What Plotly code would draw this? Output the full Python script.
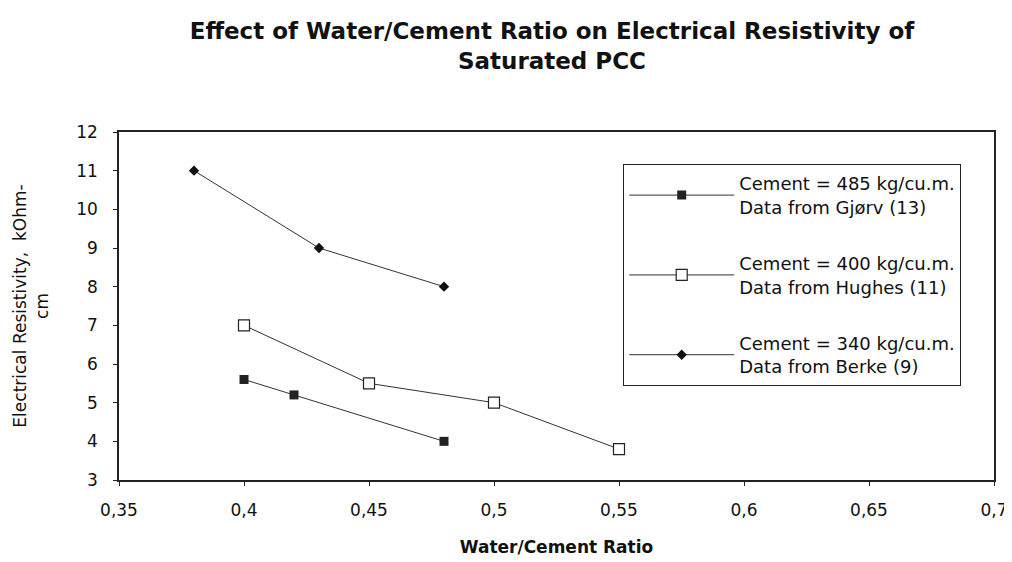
import plotly.graph_objects as go

# Water/cement ratio vs resistivity (kOhm-cm)
wc_gjorv = [0.40, 0.42, 0.48]
res_gjorv = [5.6, 5.2, 4.0]

wc_hughes = [0.40, 0.45, 0.50, 0.55]
res_hughes = [7.0, 5.5, 5.0, 3.8]

wc_berke = [0.38, 0.43, 0.48]
res_berke = [11.0, 9.0, 8.0]

x_ticks = [0.35, 0.4, 0.45, 0.5, 0.55, 0.6, 0.65, 0.7]
y_ticks = list(range(3, 13))

font = "DejaVu Sans, sans-serif"

fig = go.Figure()
fig.add_trace(go.Scatter(x=wc_gjorv, y=res_gjorv, mode="lines+markers", legendgroup="a",
                         name="Cement = 485 kg/cu.m.<br>Data from Gjørv (13)",
                         line=dict(color="#333", width=1),
                         marker=dict(symbol="square", size=9, color="#222")))
fig.add_trace(go.Scatter(x=wc_hughes, y=res_hughes, mode="lines+markers", legendgroup="b",
                         name="Cement = 400 kg/cu.m.<br>Data from Hughes (11)",
                         line=dict(color="#333", width=1),
                         marker=dict(symbol="square", size=11, color="white",
                                     line=dict(color="#222", width=1.2))))
fig.add_trace(go.Scatter(x=wc_berke, y=res_berke, mode="lines+markers", legendgroup="c",
                         name="Cement = 340 kg/cu.m.<br>Data from Berke (9)",
                         line=dict(color="#333", width=1),
                         marker=dict(symbol="diamond", size=8, color="#111")))

fig.update_layout(
    width=1012, height=562,
    paper_bgcolor="white", plot_bgcolor="white",
    separators=",.",
    font=dict(family=font, color="#111"),
    margin=dict(l=111, r=26, t=124, b=90),
    title=dict(text="<b>Effect of Water/Cement Ratio on Electrical Resistivity of<br>Saturated PCC</b>",
               x=0.5375, xanchor="center", y=0.945, yanchor="top",
               font=dict(size=23, family=font)),
    legend=dict(x=0.576, y=0.908, xanchor="left", yanchor="top",
                bgcolor="white", bordercolor="#222", borderwidth=1.2,
                font=dict(size=18, family=font), tracegroupgap=30,
                itemwidth=105),
)
fig.update_xaxes(range=[0.35, 0.7], tickvals=x_ticks, showgrid=False, zeroline=False,
                 showline=True, linecolor="#222", linewidth=1.5, mirror=True,
                 ticks="outside", ticklen=4, tickcolor="#222", automargin=False,
                 tickfont=dict(size=17), ticklabelstandoff=10,
                 title=dict(text="<b>Water/Cement Ratio</b>", font=dict(size=17), standoff=22))
fig.update_yaxes(range=[3, 12], tickvals=y_ticks, showgrid=False, zeroline=False,
                 showline=True, linecolor="#222", linewidth=1.5, mirror=True,
                 ticks="outside", ticklen=4, tickcolor="#222", automargin=False,
                 tickfont=dict(size=17), ticklabelstandoff=12,
                 title=dict(text="Electrical Resistivity,  kOhm-<br>cm", font=dict(size=17), standoff=23))

fig.write_html("out.html")
